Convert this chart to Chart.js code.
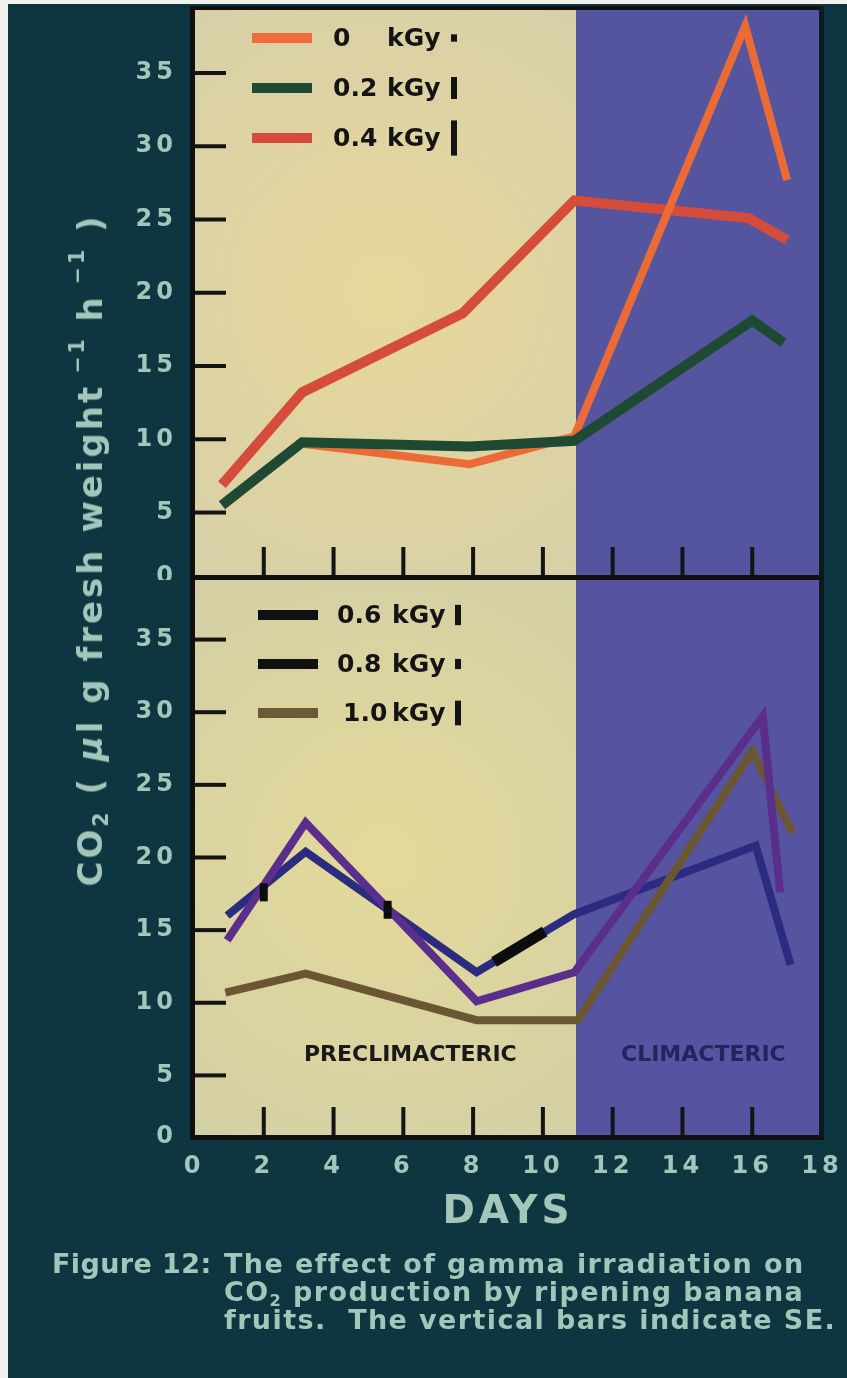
<!DOCTYPE html>
<html>
<head>
<meta charset="utf-8">
<script src="https://cdn.jsdelivr.net/npm/chart.js@4.4.1/dist/chart.umd.min.js"></script>
<style>
  html, body { margin: 0; padding: 0; background: #f1f1ed; }
  #page { position: relative; width: 847px; height: 1378px; overflow: hidden; background: #f1f1ed; }
  #panel { position: absolute; left: 8px; top: 4px; right: 0; bottom: 0; background: #0e3640; }
  canvas { position: absolute; left: 0; }
  #cTop { top: 0; }
  #cBot { top: 578px; }
  #ytitle {
    position: absolute; left: 90px; top: 550px;
    transform: translate(-50%, -50%) rotate(-90deg);
    white-space: nowrap; font: bold 34px "DejaVu Sans"; color: #a3c6ba; letter-spacing: 3px;
  }
  #ytitle sub { font-size: 60%; vertical-align: -0.3em; line-height: 0; }
  #ytitle sup { font-size: 60%; vertical-align: 0.9em; line-height: 0; }
  #caption {
    position: absolute; left: 52px; top: 1250px; display: flex;
    font: bold 27px "DejaVu Sans"; color: #a3c6ba; line-height: 28px; white-space: nowrap;
  }
  #caption .lead { width: 172px; letter-spacing: 0.4px; }
  #caption .body { letter-spacing: 1.4px; }
  #caption sub { font-size: 60%; vertical-align: -0.3em; line-height: 0; }
</style>
</head>
<body>
<div id="page">
  <div id="panel"></div>
  <canvas id="cTop" width="847" height="580"></canvas>
  <canvas id="cBot" width="847" height="680"></canvas>
  <div id="ytitle">CO<sub>2</sub> ( <i>μ</i>l g fresh weight<sup> −1</sup> h<sup> −1</sup> )</div>
  <div id="caption">
    <div class="lead">Figure 12:</div>
    <div class="body">The effect of gamma irradiation on<br>CO<sub>2</sub> production by ripening banana<br>fruits.&nbsp; The vertical bars indicate SE.</div>
  </div>
</div>
<script>
// ---------- data ----------
const yTickValues = [0, 5, 10, 15, 20, 25, 30, 35];
const yTickLabels = ['0', '5', '10', '15', '20', '25', '30', '35'];
const xTickValues = [0, 2, 4, 6, 8, 10, 12, 14, 16, 18];
const phaseBoundary = 10.95;
const phaseLabels = ['PRECLIMACTERIC', 'CLIMACTERIC'];

const topLabels = ['0', '0.2', '0.4'];
const botLabels = ['0.6', '0.8', '1.0'];
const unitLabel = 'kGy';

// upper panel
const dose0Days  = [0.9, 3.1, 7.9, 10.9, 15.8, 17.0];
const dose0      = [5.6, 9.7, 8.3, 10.2, 38.2, 27.7];
const dose02Days = [0.8, 3.1, 7.9, 10.9, 16.0, 16.9];
const dose02     = [5.5, 9.8, 9.5, 9.9, 18.1, 16.6];
const dose04Days = [0.8, 3.1, 7.7, 10.9, 15.9, 17.0];
const dose04     = [6.9, 13.2, 18.6, 26.3, 25.1, 23.6];
const seTop      = [0.5, 1.5, 2.4];

// lower panel
const dose06Days = [0.95, 3.2, 8.1, 10.9, 16.1, 17.1];
const dose06     = [16.0, 20.4, 12.1, 16.1, 20.8, 12.6];
const dose08Days = [0.95, 3.2, 8.1, 10.9, 16.3, 16.8];
const dose08     = [14.3, 22.4, 10.1, 12.1, 29.7, 17.6];
const dose10Days = [0.9, 3.2, 8.1, 11.0, 16.0, 17.15];
const dose10     = [10.7, 12.0, 8.8, 8.8, 27.3, 21.7];
const seBottom   = [1.4, 0.7, 1.7];

// SE marks drawn on the 0.6 kGy curve
const seMarkDays   = [2.0, 5.55];
const seMarkValues = [17.6, 16.4];
const seSegDays    = [8.6, 10.05];
const seSegValues  = [12.8, 14.9];

// ---------- styling ----------
const FONT = '"DejaVu Sans"';
const LABEL = '#a3c6ba';
const INK = '#141414';

function pts(xs, ys) { return xs.map((d, i) => ({ x: d, y: ys[i] })); }
function line(label, xs, ys, color, order, width) {
  return {
    label, data: pts(xs, ys), borderColor: color, backgroundColor: color,
    borderWidth: width, pointRadius: 0, pointHoverRadius: 0, tension: 0, order,
    borderJoinStyle: 'miter', borderCapStyle: 'butt', fill: false
  };
}

const panelPlugin = {
  id: 'panel',
  beforeDraw(chart) {
    chart.ctx.letterSpacing = '4px';
  },
  beforeDatasetsDraw(chart, args, o) {
    const { ctx, chartArea: a, scales: { x, y } } = chart;
    ctx.letterSpacing = '0px';
    const xb = x.getPixelForValue(phaseBoundary);
    ctx.save();
    const cx = (a.left + xb) / 2, cy = (a.top + a.bottom) / 2;
    const g = ctx.createRadialGradient(cx, cy, 10, cx, cy, 360);
    g.addColorStop(0, o.tanCenter);
    g.addColorStop(1, o.tanEdge);
    ctx.fillStyle = g;
    ctx.fillRect(a.left, a.top, xb - a.left, a.bottom - a.top);
    ctx.fillStyle = o.blue;
    ctx.fillRect(xb, a.top, a.right - xb, a.bottom - a.top);
    // inner tick marks
    ctx.fillStyle = INK;
    yTickValues.forEach(v => {
      if (v <= 0) return;
      const py = y.getPixelForValue(v);
      ctx.fillRect(a.left, py - 2, 32, 4);
    });
    xTickValues.forEach(v => {
      if (v <= x.min || v >= x.max) return;
      const px = x.getPixelForValue(v);
      ctx.fillRect(px - 2, a.bottom - 30, 4, 30);
    });
    ctx.restore();
  },
  afterDatasetsDraw(chart, args, o) {
    const { ctx, chartArea: a, scales: { x, y } } = chart;
    ctx.save();
    ctx.letterSpacing = '0px';
    // frame
    ctx.fillStyle = '#101010';
    ctx.fillRect(a.left - 4, a.top - o.topLine, 5, a.bottom - a.top + o.topLine + 3);
    if (o.topLine) ctx.fillRect(a.left - 4, a.top - 4, a.right - a.left + 4, 4);
    ctx.fillRect(a.left - 4, a.bottom - 2, a.right - a.left + 6, 5);
    ctx.fillStyle = '#0a1c22';
    ctx.fillRect(a.right - 3, a.top - o.topLine, 5, a.bottom - a.top + o.topLine);
    // legend
    const L = o.legend;
    ctx.font = 'bold 25px ' + FONT;
    ctx.textBaseline = 'middle';
    ctx.textAlign = 'left';
    const zero = y.getPixelForValue(0);
    L.labels.forEach((lab, i) => {
      const yy = a.top + L.y0 + i * L.dy;
      ctx.fillStyle = L.colors[i];
      ctx.fillRect(a.left + L.sx, yy - 5, 60, 10);
      ctx.fillStyle = INK;
      ctx.fillText(lab, a.left + L.tx + (L.shift ? L.shift[i] : 0), yy + 1);
      ctx.fillText(unitLabel, a.left + L.ux, yy + 1);
      const h = zero - y.getPixelForValue(L.se[i]);
      ctx.fillRect(a.left + L.bx, yy - h / 2, 6, h);
    });
    // phase labels
    if (o.phase) {
      ctx.font = 'bold 22px ' + FONT;
      ctx.textAlign = 'center';
      const py = y.getPixelForValue(o.phase.y);
      ctx.fillStyle = '#1a1a1a';
      ctx.fillText(phaseLabels[0], x.getPixelForValue(o.phase.x[0]), py);
      ctx.fillStyle = '#22245c';
      ctx.fillText(phaseLabels[1], x.getPixelForValue(o.phase.x[1]), py);
    }
    ctx.restore();
  }
};

function options(cfg) {
  return {
    responsive: false, animation: false, devicePixelRatio: 1,
    layout: { padding: cfg.padding, autoPadding: false },
    plugins: {
      legend: { display: false }, tooltip: { enabled: false },
      panel: cfg.panel
    },
    scales: {
      x: {
        type: 'linear', min: 0, max: 18, display: cfg.showX,
        afterBuildTicks: s => { s.ticks = xTickValues.map(v => ({ value: v })); },
        ticks: { color: LABEL, font: { family: FONT, size: 24, weight: 'bold' }, padding: 15, maxRotation: 0 },
        grid: { display: false, drawTicks: false }, border: { display: false },
        title: { display: cfg.showX, text: 'DAYS', color: LABEL,
                 font: { family: FONT, size: 39, weight: 'bold' }, padding: { top: 0, bottom: 22 } },
        afterFit: s => {
          if (cfg.showX) s.height = 121;
          s.paddingLeft = 0; s.paddingRight = 0; s.paddingTop = 0; s.paddingBottom = 0;
        }
      },
      y: {
        type: 'linear', min: cfg.ymin, max: cfg.ymax,
        afterBuildTicks: s => { s.ticks = yTickValues.map(v => ({ value: Math.max(v, s.min) })); },
        ticks: { color: LABEL, font: { family: FONT, size: 24, weight: 'bold', lineHeight: 0.2 }, padding: 17,
                 callback: (v, i) => yTickLabels[i] },
        grid: { display: false, drawTicks: false }, border: { display: false },
        afterFit: s => { s.width = 194; s.paddingTop = 0; s.paddingBottom = 0; }
      }
    }
  };
}

new Chart(document.getElementById('cTop'), {
  type: 'line',
  data: { datasets: [
    line('0 kGy', dose0Days, dose0, '#ea6b35', 1, 8),
    line('0.2 kGy', dose02Days, dose02, '#1e4a33', 0, 10),
    line('0.4 kGy', dose04Days, dose04, '#d54c3a', 2, 10)
  ]},
  options: options({
    ymin: 0.6, ymax: 39.3, showX: false,
    padding: { top: 10, right: 25, bottom: 3, left: 0 },
    panel: {
      tanCenter: '#e6d79c', tanEdge: '#d6cfa8', blue: '#55549f', topLine: 4,
      legend: { labels: topLabels, colors: ['#ee6d3a', '#1d4a34', '#d64c3c'], se: seTop,
                y0: 28, dy: 50, sx: 58, tx: 139, ux: 193, bx: 257 }
    }
  }),
  plugins: [panelPlugin]
});

new Chart(document.getElementById('cBot'), {
  type: 'line',
  data: { datasets: [
    line('0.6 kGy', dose06Days, dose06, '#2b2c80', 2, 8),
    line('0.8 kGy', dose08Days, dose08, '#5b2e8c', 0, 8),
    line('1.0 kGy', dose10Days, dose10, '#6a5632', 1, 8),
    { label: 'SE', data: pts(seMarkDays, seMarkValues), showLine: false, pointStyle: 'line',
      rotation: 90, pointRadius: 9, pointBorderWidth: 8, borderColor: '#0c0c0c', order: -2 },
    line('SE band', seSegDays, seSegValues, '#0c0c0c', -1, 11)
  ]},
  options: options({
    ymin: 0.76, ymax: 39.1, showX: true,
    padding: { top: 2, right: 25, bottom: 0, left: 0 },
    panel: {
      tanCenter: '#e3d99a', tanEdge: '#d2cfa6', blue: '#5654a0', topLine: 0,
      legend: { labels: botLabels, colors: ['#111111', '#111111', '#6b5a36'], se: seBottom,
                y0: 35, dy: 49, sx: 64, tx: 143, ux: 198, bx: 261, shift: [0, 0, 6] },
      phase: { x: [6.2, 14.6], y: 6.4 }
    }
  }),
  plugins: [panelPlugin]
});
</script>
</body>
</html>
